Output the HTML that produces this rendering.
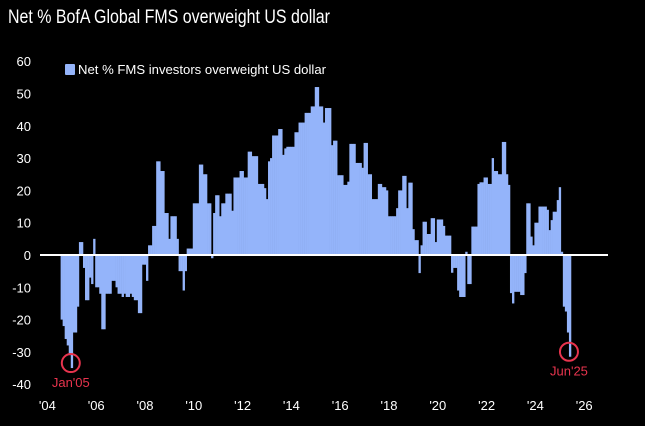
<!DOCTYPE html>
<html><head><meta charset="utf-8"><style>
html,body{margin:0;padding:0;background:#000;}
svg{display:block;font-family:"Liberation Sans",sans-serif;}
</style></head><body>
<svg id="chart" width="645" height="426" viewBox="0 0 645 426">
<rect width="645" height="426" fill="#000"/>
<text x="8" y="23" fill="#fff" font-size="19" textLength="322" lengthAdjust="spacingAndGlyphs">Net % BofA Global FMS overweight US dollar</text>
<rect x="65" y="64" width="10" height="11" fill="#94b4fa" rx="1"/>
<text x="78" y="74" fill="#fff" font-size="13" textLength="248" lengthAdjust="spacingAndGlyphs">Net % FMS investors overweight US dollar</text>
<g id="yaxis"></g><g id="xaxis"></g><g id="bars"></g>
<line id="zero" x1="40" x2="608" stroke="#fff" stroke-width="2"/>
<g id="notes"></g>
</svg>
<script>
const startYear = 2004, startMonth = 7; // Aug 2004 (0-based month)
const values = [
-20,-22,-26,-28,-31,
-35,-24,-24,-16,4,4,-4,-14,-14,-7,-9,5,
-10,-10,-12,-23,-23,-12,-12,-12,-8,-8,-10,-12,
-12,-13,-12,-13,-13,-12,-13,-14,-14,-18,-18,-3,
-3,-8,3,3,9,9,29,29,26,26,13,13,
5,12,12,12,5,-5,-5,-11,-5,2,2,2,
16,16,16,28,28,25,25,16,16,-1,13,18.5,
18.5,12,16,16,19,19,19,13.7,24,24,24,26,
26,24,24,32,32,30.6,30.6,30.6,22,22,22,20.7,
17.3,29,30,37,37,37,39,39,31,33,33.5,33.5,
33.5,33.5,38,38,41,41,41,44,44,44,46,46,
52,52,46,46,41,45.5,45.5,45.5,34,35.4,35.4,24.7,
24.7,24.7,21.7,21.7,22.7,34.4,34.4,34.4,28.5,28.5,28.5,27,
34.7,34.7,25,25,17.3,17.3,17.3,22,22,21,21,20,
12,12,12,12,14.5,20,20,24.5,24.5,14.5,22.4,22.4,
8,4.6,4.6,-5.6,3,10.3,10.3,6.5,6.5,11.4,11.4,4,
11,11,11,9,6,6,6,-5.5,-4,-4,-11,-13,
-13,-13,1,-9,-9,8.8,8.8,8.8,22,22.5,22.5,24,
24,22,22,30,26,26,25,25,35,35,25,21.7,
-11.8,-15,-11.4,-11.4,-11.4,-12.4,-12.4,-5.6,16,16,5.7,3,
10,10,15,15,15,15,14,7.7,10.8,13.4,13.4,17,
21,1,-16,-17.5,-24,-31.5
];
const yTicks = [60,50,40,30,20,10,0,-10,-20,-30,-40];
const xTickYears = [2004,2006,2008,2010,2012,2014,2016,2018,2020,2022,2024,2026];
const xTickLabels = ["'04","'06","'08","'10","'12","'14","'16","'18","'20","'22","'24","'26"];
const noteLabels = ["Jan'05","Jun'25"];
const noteIdx = [5, values.length-1];

const NS="http://www.w3.org/2000/svg";
const y = v => 255 - v*3.23;
const monthW = 24.4/12;
const xOfMonth = i => 71.8 + (i - 5)*monthW;
const xOfYear = yr => 47.4 + (yr-2004)*24.4;
function mk(tag, attrs, parent){const e=document.createElementNS(NS,tag);for(const k in attrs)e.setAttribute(k,attrs[k]);parent.appendChild(e);return e;}

document.getElementById('zero').setAttribute('y1', y(0));
document.getElementById('zero').setAttribute('y2', y(0));

const ya=document.getElementById('yaxis');
yTicks.forEach(t=>{
  const e=mk('text',{x:31,y:y(t)+5,fill:'#fff','font-size':13,'text-anchor':'end'},ya);
  
  
  e.textContent=t;
});
const xa=document.getElementById('xaxis');
xTickYears.forEach((yr,i)=>{
  const e=mk('text',{x:xOfYear(yr),y:410,fill:'#fff','font-size':13,'text-anchor':'middle'},xa);
  
  
  e.textContent=xTickLabels[i];
});
const bg=document.getElementById('bars');
values.forEach((v,i)=>{
  const x=xOfMonth(i)-monthW/2;
  const y0=y(0), y1=y(v);
  const r=mk('rect',{x:x.toFixed(2),y:Math.min(y0,y1).toFixed(2),width:(monthW+0.3).toFixed(2),height:Math.abs(y1-y0).toFixed(2),fill:'#94b4fa'},bg);
  
  
});
const ng=document.getElementById('notes');
noteIdx.forEach((idx,k)=>{
  const cx=xOfMonth(idx)-1, cy=y(values[idx])-5;
  const c=mk('circle',{cx:cx,cy:cy,r:9,fill:'none',stroke:'#e8344e','stroke-width':2},ng);
  
  
  const t=mk('text',{x:cx,y:cy+24,fill:'#e8344e','font-size':13,'text-anchor':'middle'},ng);
  
  
  t.textContent=noteLabels[k];
});
</script>
</body></html>
